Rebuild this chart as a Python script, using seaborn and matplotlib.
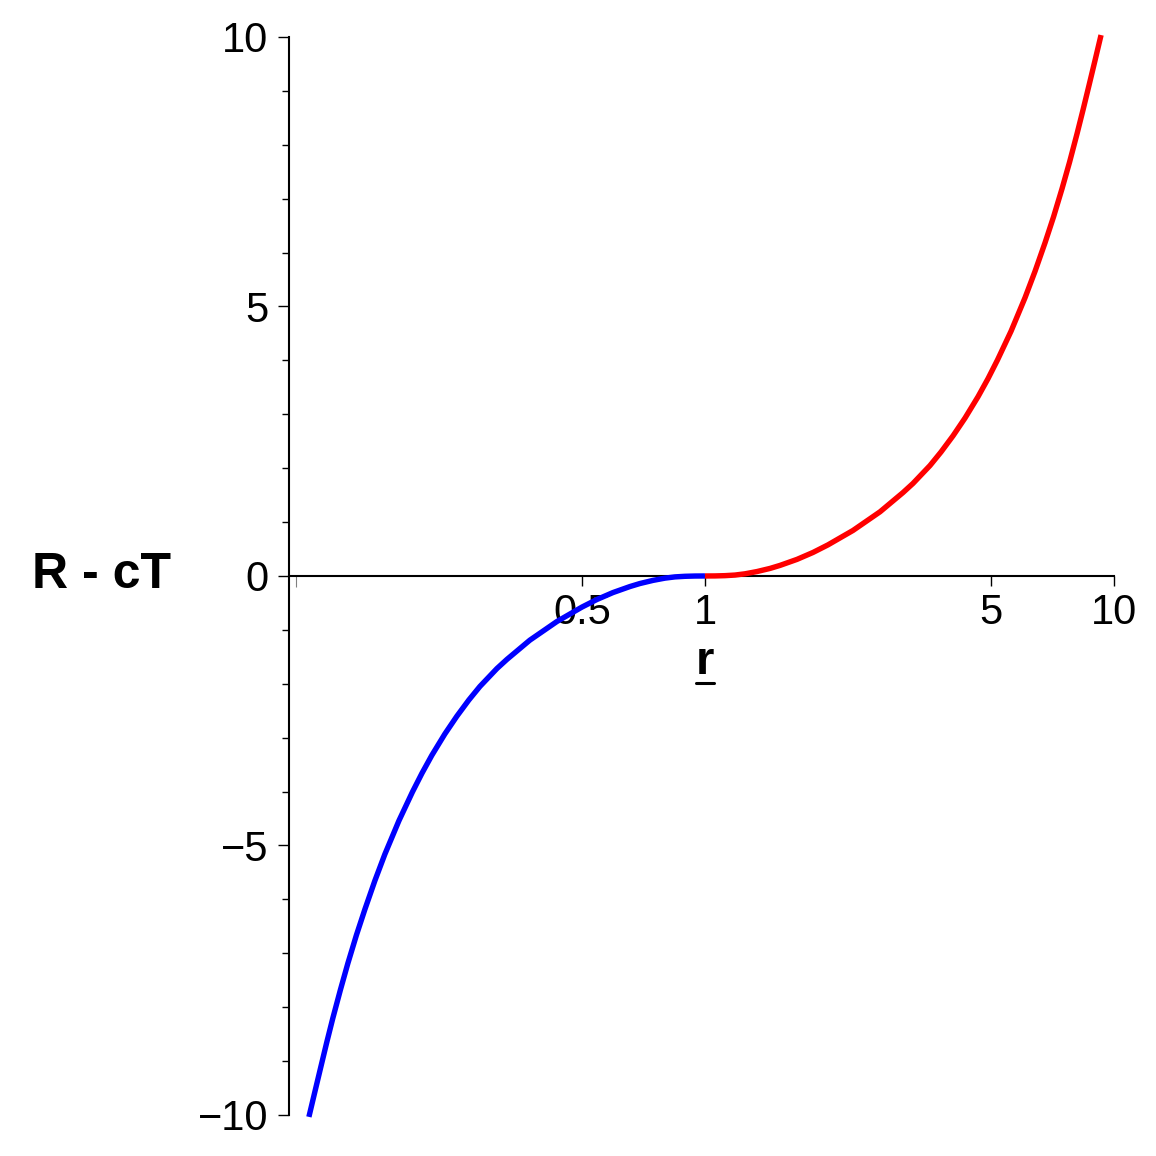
import matplotlib
matplotlib.use("Agg")
import matplotlib.pyplot as plt
import seaborn as sns
import pandas as pd
from matplotlib.ticker import MultipleLocator, NullFormatter
from matplotlib.lines import Line2D

# values (r on a log axis)
r_inner = [0.1076, 0.1113, 0.1151, 0.1190, 0.1231, 0.1285, 0.1340, 0.1406,
           0.1475, 0.1560, 0.1650, 0.1786, 0.1927, 0.2033, 0.2150, 0.2313,
           0.2475, 0.2648, 0.2818, 0.3101, 0.3281, 0.3732, 0.4346, 0.5004,
           0.5445, 0.5957, 0.6556, 0.6935, 0.7462, 0.7985, 0.8447, 0.8937,
           0.9453, 1.0]
rct_inner = [-10.036, -9.568, -9.106, -8.650, -8.206, -7.677, -7.186, -6.663,
             -6.183, -5.653, -5.163, -4.541, -4.008, -3.661, -3.326, -2.931,
             -2.601, -2.300, -2.049, -1.717, -1.547, -1.191, -0.845, -0.577,
             -0.436, -0.308, -0.196, -0.140, -0.082, -0.040, -0.017, -0.006,
             -0.001, 0.0]

r_outer = [1.0, 1.0579, 1.1190, 1.1838, 1.2524, 1.3401, 1.4420, 1.5253,
           1.6788, 1.8367, 1.9983, 2.3012, 2.6792, 3.0482, 3.2249, 3.5490,
           3.7758, 4.0408, 4.3230, 4.6507, 4.9195, 5.1895, 5.6002, 6.0594,
           6.4104, 6.7818, 7.1140, 7.4625, 7.7844, 8.1206, 8.4000, 8.6883,
           8.9868, 9.2951]
rct_outer = [0.0, 0.001, 0.006, 0.017, 0.040, 0.082, 0.140, 0.196,
             0.308, 0.436, 0.577, 0.845, 1.191, 1.547, 1.717, 2.049,
             2.300, 2.601, 2.931, 3.326, 3.661, 4.008, 4.541, 5.163,
             5.653, 6.183, 6.663, 7.186, 7.677, 8.206, 8.650, 9.106,
             9.568, 10.036]

x_ticks = [0.5, 1, 5, 10]
x_tick_labels = ["0.5", "1", "5", "10"]
y_ticks = [-10, -5, 0, 5, 10]

sns.set_theme(style="ticks")
plt.rcParams['font.family'] = ['Liberation Sans', 'DejaVu Sans']
plt.rcParams['axes.unicode_minus'] = True
plt.rcParams['text.color'] = 'black'
plt.rcParams['xtick.color'] = 'black'
plt.rcParams['ytick.color'] = 'black'
plt.rcParams['xtick.labelcolor'] = 'black'
plt.rcParams['ytick.labelcolor'] = 'black'

fig = plt.figure(figsize=(11.56, 11.56), dpi=100)
ax = fig.add_axes([0.25, 0.0355, 0.7137, 0.9325])
ax.set_xscale("log")

inner = pd.DataFrame({"r": r_inner, "rct": rct_inner})
outer = pd.DataFrame({"r": r_outer, "rct": rct_outer})
sns.lineplot(data=inner, x="r", y="rct", color="#0000ff", lw=3.9, ax=ax,
             zorder=3, clip_on=False, solid_capstyle="butt")
sns.lineplot(data=outer, x="r", y="rct", color="#ff0000", lw=3.9, ax=ax,
             zorder=3, clip_on=False, solid_capstyle="butt")

ax.set_xlim(0.0962, 10)
ax.set_ylim(-10, 10)
ax.set_xlabel("")
ax.set_ylabel("")

# axes styled like the Maple original
ax.spines['top'].set_visible(False)
ax.spines['right'].set_visible(False)
ax.spines['bottom'].set_position(('data', 0))
for s in ['bottom', 'left']:
    ax.spines[s].set_linewidth(1.5)
    ax.spines[s].set_color('black')

ax.set_xticks(x_ticks, x_tick_labels)
ax.set_xticks([0.1], minor=True)
ax.xaxis.set_minor_formatter(NullFormatter())
ax.set_yticks(y_ticks)
ax.yaxis.set_minor_locator(MultipleLocator(1))

ax.tick_params(axis='x', which='major', direction='out', length=7, width=1,
               pad=5, labelsize=30, color='black', labelcolor='black')
ax.tick_params(axis='x', which='minor', direction='out', length=8, width=0.8,
               color='gray')
ax.tick_params(axis='y', which='major', direction='out', length=8, width=1,
               pad=7, labelsize=30, color='black', labelcolor='black')
ax.tick_params(axis='y', which='minor', direction='out', length=5, width=1,
               color='black')

fig.text(101 / 1156, 1 - 575 / 1156, "R - cT", fontsize=36, fontweight='bold',
         ha='center', va='center', color='black')
xl = fig.text(705 / 1156, 1 - 662 / 1156, "r", fontsize=34, fontweight='bold',
              ha='center', va='center', color='black')

# underline the r label
fig.canvas.draw()
bb = xl.get_window_extent().transformed(fig.transFigure.inverted())
uy = bb.y0 + 0.001
fig.add_artist(Line2D([bb.x0, bb.x1], [uy, uy], transform=fig.transFigure,
                      color='black', lw=2.2))

fig.savefig("out.png", dpi=100, facecolor='white')
